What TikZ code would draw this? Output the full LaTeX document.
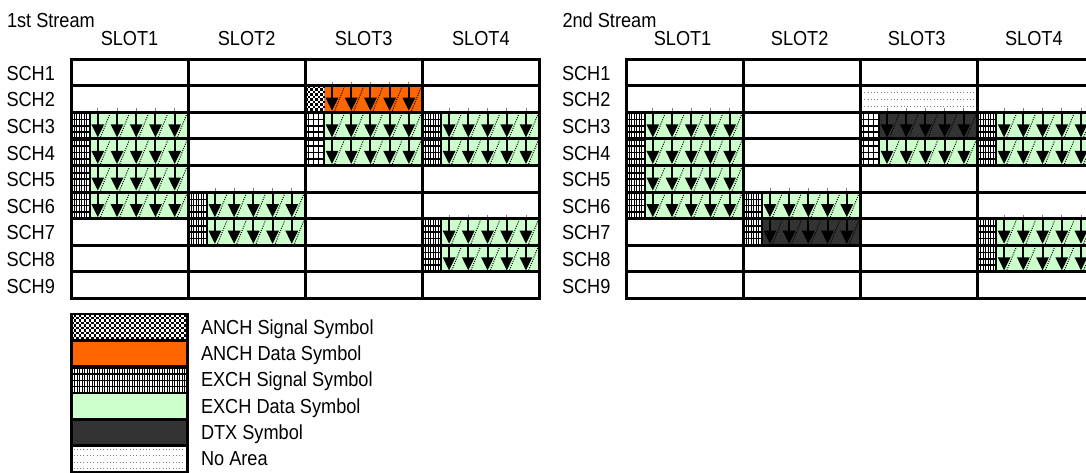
\documentclass[tikz,border=0pt]{standalone}
\usepackage{fontspec}
\setmainfont{Liberation Sans}[FakeStretch=0.895]
\definecolor{anchorange}{HTML}{FF6600}
\definecolor{exchgreen}{HTML}{CCFFCC}
\definecolor{dtxgray}{HTML}{333333}
\tikzset{
  lbl/.style={font=\fontsize{20.3}{23}\selectfont, inner sep=0pt, outer sep=0pt},
  gridline/.style={line width=3pt, black, line cap=rect},
  legline/.style={line width=2.7pt, black},
  shaftline/.style={line width=2pt, black},
  diagline/.style={line width=1pt, black, dash pattern=on 1pt off 1.3pt},
  noarealine/.style={line width=0.8pt, gray, dash pattern=on 0.8pt off 2.5pt},
  tickline/.style={line width=0.8pt, gray},
}
\newcommand\RH{26.6}
\newcommand\CW{117.1}
% EXCH signal pattern in rectangle (#1,#2)-(#3,#4)
\newcommand\exchsig[4]{%
  \fill[black] (#1,#2) rectangle (#3,#4);
  \begin{scope}
    \clip (#1+0.9,#2) rectangle (#3-0.9,#4);
    \pgfmathtruncatemacro\nc{((#3)-(#1))/2.5}
    \pgfmathtruncatemacro\nr{((#4)-(#2))/6.3}
    \foreach \i in {0,...,\nc} \foreach \j in {0,...,\nr} {
      \fill[white] ({#1+1.2+\i*2.5},{#2+1.8+\j*6.3}) rectangle ++(1.6,4.7);
    }
  \end{scope}}
% ANCH signal checker in rectangle (#1,#2)-(#3,#4)
\newcommand\anchsig[4]{%
  \fill[black] (#1,#2) rectangle (#3,#4);
  \begin{scope}
    \clip (#1,#2) rectangle (#3,#4);
    \pgfmathtruncatemacro\nc{((#3)-(#1))/5}
    \pgfmathtruncatemacro\nr{((#4)-(#2))/2.5}
    \foreach \j in {0,...,\nr} \foreach \i in {0,...,\nc} {
      \fill[white] ({#1+\i*5+mod(\j,2)*2.5},{#2+\j*2.5}) rectangle ++(2.5,2.5);
    }
  \end{scope}}
% data part with 5 arrows: (#1,#2)-(#3,#4), colour #5
\newcommand\datacell[5]{%
  \fill[#5] (#1,#2) rectangle (#3,#4);
  \pgfmathsetmacro\uw{((#3)-(#1))/5}
  \foreach \u in {0,...,4} {
    \pgfmathsetmacro\L{#1+\u*\uw}
    \draw[shaftline] (\L+7.3,#2) -- (\L+7.3,#4-12);
    \fill[black] (\L+0.9,#4-13) -- (\L+13.7,#4-13) -- (\L+7.3,#4) -- cycle;
    \draw[diagline] (\L+10,#4) -- (\L+\uw+0.3,#2);
  }}
% full EXCH cell: grid x0, column, row, data colour
\newcommand\exch[4]{%
  \pgfmathsetmacro\xa{#1+(#2-1)*\CW}
  \pgfmathsetmacro\xs{\xa+19.5}
  \pgfmathsetmacro\xb{\xa+\CW-1.5}
  \pgfmathsetmacro\ya{59+(#3-1)*\RH}
  \pgfmathsetmacro\yb{\ya+\RH}
  \pgfmathsetmacro\yi{\ya+1.5}
  \pgfmathsetmacro\yj{\yb-1.5}
  \exchsig{\xa}{\ya}{\xs}{\yb}
  \datacell{\xs}{\yi}{\xb}{\yj}{#4}}
% ANCH cell: grid x0, column, row
\newcommand\anchcell[3]{%
  \pgfmathsetmacro\xa{#1+(#2-1)*\CW}
  \pgfmathsetmacro\xs{\xa+19.5}
  \pgfmathsetmacro\xb{\xa+\CW-1.5}
  \pgfmathsetmacro\ya{59+(#3-1)*\RH}
  \pgfmathsetmacro\yb{\ya+\RH}
  \pgfmathsetmacro\yi{\ya+1.5}
  \pgfmathsetmacro\yj{\yb-1.5}
  \anchsig{\xa}{\ya}{\xs}{\yb}
  \datacell{\xs}{\yi}{\xb}{\yj}{anchorange}}
% small ticks above a block
\newcommand\ticks[3]{%
  \pgfmathsetmacro\xs{#1+(#2-1)*\CW+19.5}
  \pgfmathsetmacro\uw{(\CW-21)/5}
  \pgfmathsetmacro\ya{59+(#3-1)*\RH}
  \foreach \u in {0,...,4} {
    \draw[tickline] ({\xs+\u*\uw+7.3},\ya-4) -- ({\xs+\u*\uw+7.3},\ya);
  }}
% no area cell
\newcommand\noarea[3]{%
  \pgfmathsetmacro\xa{#1+(#2-1)*\CW}
  \pgfmathsetmacro\ya{59+(#3-1)*\RH}
  \foreach \k in {0,1,2} {
    \draw[noarealine] (\xa+4,{\ya+6.5+\k*7.3}) -- (\xa+\CW-2,{\ya+6.5+\k*7.3});
  }}
\newcommand\gridlines[1]{%
  \foreach \k in {0,...,9} {\draw[gridline] (#1,{59+\k*\RH}) -- ({#1+4*\CW},{59+\k*\RH});}
  \foreach \k in {0,...,4} {\draw[gridline] ({#1+\k*\CW},59) -- ({#1+\k*\CW},{59+9*\RH});}}
\begin{document}
\begin{tikzpicture}[x=1pt,y=-1pt]
\useasboundingbox (0,0) rectangle (1086,472);
\clip (0,0) rectangle (1086,472);
\fill[white] (0,0) rectangle (1086,472);
% ---------- 1st stream cells
\anchcell{71}{3}{2}
\foreach \r in {3,...,6} {\exch{71}{1}{\r}{exchgreen}}
\exch{71}{3}{3}{exchgreen}
\exch{71}{3}{4}{exchgreen}
\exch{71}{4}{3}{exchgreen}
\exch{71}{4}{4}{exchgreen}
\exch{71}{2}{6}{exchgreen}
\exch{71}{2}{7}{exchgreen}
\exch{71}{4}{7}{exchgreen}
\exch{71}{4}{8}{exchgreen}
\ticks{71}{3}{2}
\ticks{71}{1}{3}
\ticks{71}{4}{3}
\ticks{71}{2}{6}
\ticks{71}{4}{7}
% ---------- 2nd stream cells
\noarea{626}{3}{2}
\foreach \r in {3,...,6} {\exch{626}{1}{\r}{exchgreen}}
\exch{626}{3}{3}{dtxgray}
\exch{626}{3}{4}{exchgreen}
\exch{626}{4}{3}{exchgreen}
\exch{626}{4}{4}{exchgreen}
\exch{626}{2}{6}{exchgreen}
\exch{626}{2}{7}{dtxgray}
\exch{626}{4}{7}{exchgreen}
\exch{626}{4}{8}{exchgreen}
\ticks{626}{1}{3}
\ticks{626}{3}{3}
\ticks{626}{4}{3}
\ticks{626}{2}{6}
\ticks{626}{4}{7}
% ---------- grids
\gridlines{71}
\gridlines{626}
% ---------- labels
\node[lbl, anchor=base west] (title1) at (7,27) {1st Stream};
\node[lbl, anchor=base west] (title2) at (562.5,27.5) {2nd Stream};
\foreach \c in {1,...,4} {
  \node[lbl, anchor=base] (slotL\c) at ({71+(\c-0.5)*\CW},45.5) {SLOT\c};
  \node[lbl, anchor=base] (slotR\c) at ({626+(\c-0.5)*\CW-2},45.5) {SLOT\c};
}
\foreach \r in {1,...,9} {
  \node[lbl, anchor=base west] (schL\r) at (6.5,{59+(\r-0.5)*\RH+8}) {SCH\r};
  \node[lbl, anchor=base west] (schR\r) at (562,{59+(\r-0.5)*\RH+8}) {SCH\r};
}
% ---------- legend
\anchsig{71.3}{314}{187.2}{340.35}
\fill[anchorange] (71.3,340.35) rectangle (187.2,366.7);
\exchsig{71.3}{366.7}{187.2}{393.05}
\fill[exchgreen] (71.3,393.05) rectangle (187.2,419.4);
\fill[dtxgray] (71.3,419.4) rectangle (187.2,445.75);
\foreach \yy in {449.3,455.8,462.3,468.8} {\draw[noarealine] (73.5,\yy) -- (186,\yy);}
\foreach \k in {0,...,5} {
  \draw[legline] (71.3,{314+\k*26.35}) rectangle (187.2,{314+(\k+1)*26.35});
}
\node[lbl, anchor=base west] (lg1) at (201,{314+0.5*26.35+7}) {ANCH Signal Symbol};
\node[lbl, anchor=base west] (lg2) at (201,{314+1.5*26.35+7}) {ANCH Data Symbol};
\node[lbl, anchor=base west] (lg3) at (201,{314+2.5*26.35+7}) {EXCH Signal Symbol};
\node[lbl, anchor=base west] (lg4) at (201,{314+3.5*26.35+7}) {EXCH Data Symbol};
\node[lbl, anchor=base west] (lg5) at (201,{314+4.5*26.35+7}) {DTX Symbol};
\node[lbl, anchor=base west] (lg6) at (201,{314+5.5*26.35+7}) {No Area};
\end{tikzpicture}
\end{document}
